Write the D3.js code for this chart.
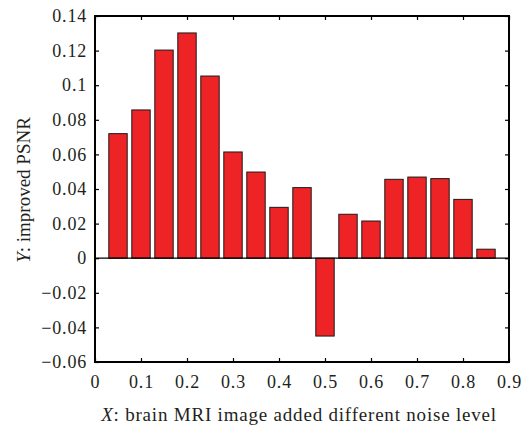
<!DOCTYPE html>
<html><head><meta charset="utf-8">
<script src="https://cdn.jsdelivr.net/npm/d3@7"></script>
<style>body{margin:0;background:#fff}svg{display:block}</style>
</head><body><svg id="c" width="525" height="430"></svg>
<script>
const xs = [0.05,0.1,0.15,0.2,0.25,0.3,0.35,0.4,0.45,0.5,0.55,0.6,0.65,0.7,0.75,0.8,0.85];
const values = [0.072,0.0857,0.1203,0.1302,0.1053,0.0614,0.0498,0.0294,0.0408,-0.045,0.0254,0.0215,0.0456,0.0469,0.046,0.034,0.0052];
const xTicks = [0,0.1,0.2,0.3,0.4,0.5,0.6,0.7,0.8,0.9];
const yTicks = [-0.06,-0.04,-0.02,0,0.02,0.04,0.06,0.08,0.1,0.12,0.14];
const xTickLabels = ["0","0.1","0.2","0.3","0.4","0.5","0.6","0.7","0.8","0.9"];
const yTickLabels = ["\u22120.06","\u22120.04","\u22120.02","0","0.02","0.04","0.06","0.08","0.1","0.12","0.14"];
const barWidth = 0.04;

const svg = d3.select("#c");
const L=95,R=509,T=16,B=362;
const x = d3.scaleLinear().domain([0,0.9]).range([L,R]);
const y = d3.scaleLinear().domain([-0.06,0.14]).range([B,T]);
const font = "'Liberation Serif', 'Times New Roman', serif";
const ink = "#231f20";

// bars
svg.append("g").selectAll("rect").data(values).join("rect")
  .attr("x",(d,i)=>x(xs[i]-barWidth/2))
  .attr("width",(d,i)=>x(xs[i]+barWidth/2)-x(xs[i]-barWidth/2))
  .attr("y",d=>y(Math.max(0,d)))
  .attr("height",d=>Math.abs(y(d)-y(0)))
  .attr("fill","#ee2326").attr("stroke","#1a1a1a").attr("stroke-width",1);

// zero line
svg.append("line").attr("x1",L).attr("x2",R).attr("y1",y(0)).attr("y2",y(0))
  .attr("stroke","#000").attr("stroke-width",1.2);

// axes with inward ticks
const tl = 4;
const ax = svg.append("g").attr("transform",`translate(0,${B})`)
  .call(d3.axisBottom(x).tickValues(xTicks).tickSize(-tl).tickPadding(13).tickFormat((d,i)=>xTickLabels[i]));
const axT = svg.append("g").attr("transform",`translate(0,${T})`)
  .call(d3.axisTop(x).tickValues(xTicks).tickSize(-tl).tickFormat(""));
const ay = svg.append("g").attr("transform",`translate(${L},0)`)
  .call(d3.axisLeft(y).tickValues(yTicks).tickSize(-tl).tickPadding(8).tickFormat((d,i)=>yTickLabels[i]));
const ayR = svg.append("g").attr("transform",`translate(${R},0)`)
  .call(d3.axisRight(y).tickValues(yTicks).tickSize(-tl).tickFormat(""));
[ax,axT,ay,ayR].forEach(g=>{
  g.select(".domain").remove();
  g.selectAll("line").attr("stroke","#000").attr("stroke-width",1.2);
  g.selectAll("text").attr("font-family",font).attr("font-size",18)
    .attr("letter-spacing","0.8px").attr("fill",ink);
});

// frame
svg.append("rect").attr("x",L).attr("y",T).attr("width",R-L).attr("height",B-T)
  .attr("fill","none").attr("stroke","#000").attr("stroke-width",2);

// axis labels
const xl = svg.append("text").attr("x",299).attr("y",421).attr("text-anchor","middle")
  .attr("font-family",font).attr("font-size",19).attr("letter-spacing","0.8px").attr("fill",ink);
xl.append("tspan").attr("font-style","italic").text("X");
xl.append("tspan").text(": brain MRI image added different noise level");

const yl = svg.append("text").attr("transform",`translate(30,190) rotate(-90)`).attr("text-anchor","middle")
  .attr("font-family",font).attr("font-size",19).attr("fill",ink);
yl.append("tspan").attr("font-style","italic").text("Y");
yl.append("tspan").text(": improved PSNR");
</script></body></html>
